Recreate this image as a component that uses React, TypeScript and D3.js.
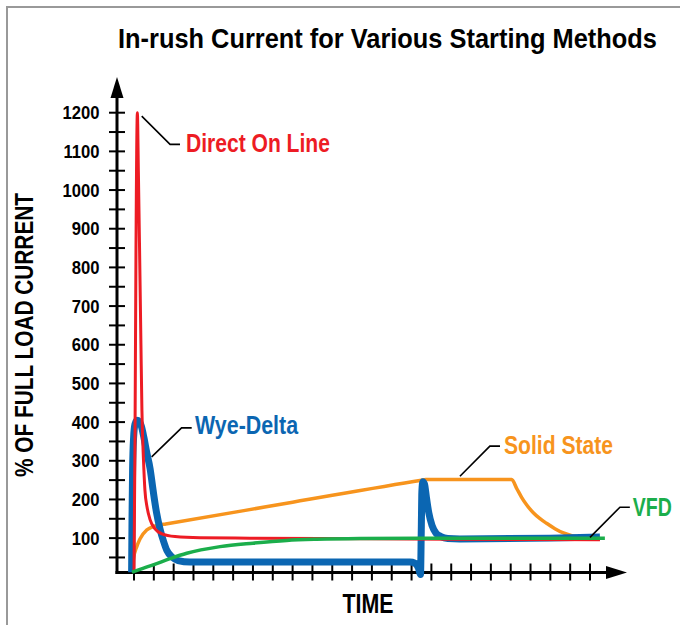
import React, { useLayoutEffect, useRef, useState } from 'react';
import * as d3 from 'd3';

const TITLE = 'In-rush Current for Various Starting Methods';
const Y_TITLE = '% OF FULL LOAD CURRENT';
const X_TITLE = 'TIME';

const yMinorTicks = d3.range(50, 1201, 50);
const yLabelTicks = d3.range(100, 1201, 100);
const xTicks = d3.range(0, 24);

// [time (tick units), % of full load current]
const directOnLine: [number, number][] = [
  [0, 12], [0.05, 350], [0.1, 850], [0.17, 1200], [0.22, 1050], [0.28, 850], [0.35, 600],
  [0.4, 430], [0.48, 300], [0.55, 225], [0.66, 180], [0.81, 148], [1.06, 124], [1.41, 111],
  [2.07, 104], [3.33, 101], [5.85, 100], [9.38, 99], [15.94, 97], [23.5, 96],
];

const wyeDelta: [number, number][] = [
  [-0.12, 12], [-0.1, 150], [-0.07, 280], [-0.02, 360], [0.05, 395], [0.15, 405], [0.26, 402],
  [0.38, 388], [0.5, 360], [0.64, 322], [0.81, 280], [0.96, 225], [1.13, 168], [1.31, 124],
  [1.49, 92], [1.66, 68], [1.92, 51], [2.22, 42], [2.82, 38], [5.85, 38], [13.92, 38],
  [14.17, 35], [14.35, 22], [14.45, 6], [14.49, 120], [14.52, 220], [14.57, 246],
  [14.65, 240], [14.75, 205], [14.87, 165], [15.03, 133], [15.23, 113], [15.48, 104],
  [15.83, 99], [16.44, 98], [20.98, 100], [23.5, 103],
];

const solidState: [number, number][] = [
  [-0.1, 12], [-0.03, 45], [0.14, 78], [0.3, 98], [0.64, 121], [0.96, 130], [1.31, 134],
  [1.6, 136.5], [8.0, 192.9], [14.5, 249.7], [14.72, 251.5], [19.05, 251.5], [19.3, 228.7],
  [19.55, 205.5], [19.81, 185.6], [20.14, 165.8], [20.48, 150.3], [20.81, 138.3],
  [21.23, 124.5], [21.66, 113.3], [22.08, 106.3], [22.5, 102], [23.0, 99.5], [23.5, 98],
];

const vfd: [number, number][] = [
  [-0.1, 12], [0.45, 22], [0.97, 31], [1.82, 47], [2.66, 61], [4.34, 78], [6.0, 87],
  [7.7, 94], [9.21, 97], [11.4, 99], [15.94, 100], [23.75, 100],
];

const seriesNames = ['Solid State', 'Wye-Delta', 'Direct On Line', 'VFD'];
const seriesData = [solidState, wyeDelta, directOnLine, vfd];
const seriesColors = ['#F7941D', '#0B66B2', '#ED1C24', '#1BAE4B'];
const seriesWidths = [3.5, 7, 3, 3.5];

// leader lines: [start, elbow, end] in data coords, label start point and label width
const leaders: { name: string; pts: [number, number][]; text: [number, number]; len: number }[] = [
  { name: 'Direct On Line', pts: [[0.39, 1191], [1.82, 1118], [2.32, 1118]], text: [2.62, 1099], len: 144 },
  { name: 'Wye-Delta', pts: [[0.89, 310], [2.4, 385], [2.91, 385]], text: [3.08, 369], len: 103 },
  { name: 'Solid State', pts: [[16.44, 260], [17.95, 338], [18.46, 338]], text: [18.66, 316.5], len: 109 },
  { name: 'VFD', pts: [[23.0, 102], [24.51, 180], [25.01, 180]], text: [25.16, 158.5], len: 39 },
];

const FONT = '"Liberation Sans", Arial, sans-serif';

type FitProps = {
  x: number;
  y: number;
  width: number;
  fontSize: number;
  fill: string;
  anchor?: 'start' | 'middle' | 'end';
  rotate?: number;
  children: string;
};

function FitText({ x, y, width, fontSize, fill, anchor = 'start', rotate = 0, children }: FitProps) {
  const ref = useRef<SVGTextElement>(null);
  const [s, setS] = useState(0.8);
  useLayoutEffect(() => {
    if (ref.current) {
      const w = ref.current.getComputedTextLength();
      if (w > 0) setS(width / w);
    }
  }, [width, fontSize, children]);
  return (
    <text
      ref={ref}
      transform={`translate(${x},${y}) rotate(${rotate}) scale(${s},1)`}
      textAnchor={anchor}
      fontFamily={FONT}
      fontWeight="bold"
      fontSize={fontSize}
      fill={fill}
    >
      {children}
    </text>
  );
}

export default function App() {
  const W = 680;
  const H = 625;
  const x = d3.scaleLinear().domain([0, 23]).range([134, 590]);
  const y = d3.scaleLinear().domain([0, 1200]).range([576.8, 112.7]);
  const axisX = 117;
  const axisY = 572.5;

  const line = d3
    .line<[number, number]>()
    .x((d) => x(d[0]))
    .y((d) => y(d[1]))
    .curve(d3.curveMonotoneX);
  const leaderLine = d3
    .line<[number, number]>()
    .x((d) => x(d[0]))
    .y((d) => y(d[1]));

  return (
    <svg
      width={W}
      height={H}
      viewBox={`0 0 ${W} ${H}`}
      style={{ position: 'absolute', left: 0, top: 0, background: '#fff' }}
    >
      <rect x={0} y={0} width={W} height={H} fill="#fff" />
      {/* frame */}
      <line x1={7} y1={7} x2={W} y2={7} stroke="#999" strokeWidth={2} />
      <line x1={7} y1={6} x2={7} y2={H} stroke="#999" strokeWidth={2} />

      <FitText x={118} y={48} width={539} fontSize={28} fill="#000">
        {TITLE}
      </FitText>

      <FitText x={33} y={335} width={284} fontSize={25} fill="#000" anchor="middle" rotate={-90}>
        {Y_TITLE}
      </FitText>

      <FitText x={368} y={613} width={51} fontSize={27} fill="#000" anchor="middle">
        {X_TITLE}
      </FitText>

      {/* y ticks */}
      {yMinorTicks.map((v) => (
        <line key={`yt${v}`} x1={axisX - 8} x2={axisX + 8} y1={y(v)} y2={y(v)} stroke="#000" strokeWidth={2} />
      ))}
      {yLabelTicks.map((v) => (
        <text
          key={`yl${v}`}
          transform={`translate(99.5, ${y(v) + 6.7}) scale(0.9, 1)`}
          textAnchor="end"
          fontFamily={FONT}
          fontWeight="bold"
          fontSize={18.5}
          fill="#000"
        >
          {v}
        </text>
      ))}
      {/* x ticks */}
      {xTicks.map((t) => (
        <line key={`xt${t}`} x1={x(t)} x2={x(t)} y1={axisY - 9} y2={axisY + 8} stroke="#000" strokeWidth={2} />
      ))}

      {/* axes */}
      <line x1={axisX} y1={axisY + 1.5} x2={axisX} y2={95} stroke="#000" strokeWidth={3} />
      <polygon points={`${axisX - 6.5},98 ${axisX},77 ${axisX + 6.5},98`} fill="#000" />
      <line x1={axisX - 1.5} y1={axisY} x2={608} y2={axisY} stroke="#000" strokeWidth={3} />
      <polygon points={`606,${axisY - 6.5} 627,${axisY} 606,${axisY + 6.5}`} fill="#000" />

      {/* series */}
      {seriesData.map((d, i) => (
        <path
          key={seriesNames[i]}
          d={line(d) || ''}
          fill="none"
          stroke={seriesColors[i]}
          strokeWidth={seriesWidths[i]}
          strokeLinejoin="round"
          strokeLinecap="butt"
        />
      ))}

      {/* leaders & labels */}
      {leaders.map((l) => {
        const idx = seriesNames.indexOf(l.name);
        return (
          <g key={l.name}>
            <path d={leaderLine(l.pts) || ''} fill="none" stroke="#000" strokeWidth={1.6} />
            <FitText x={x(l.text[0])} y={y(l.text[1])} width={l.len} fontSize={25} fill={seriesColors[idx]}>
              {l.name}
            </FitText>
          </g>
        );
      })}
    </svg>
  );
}
